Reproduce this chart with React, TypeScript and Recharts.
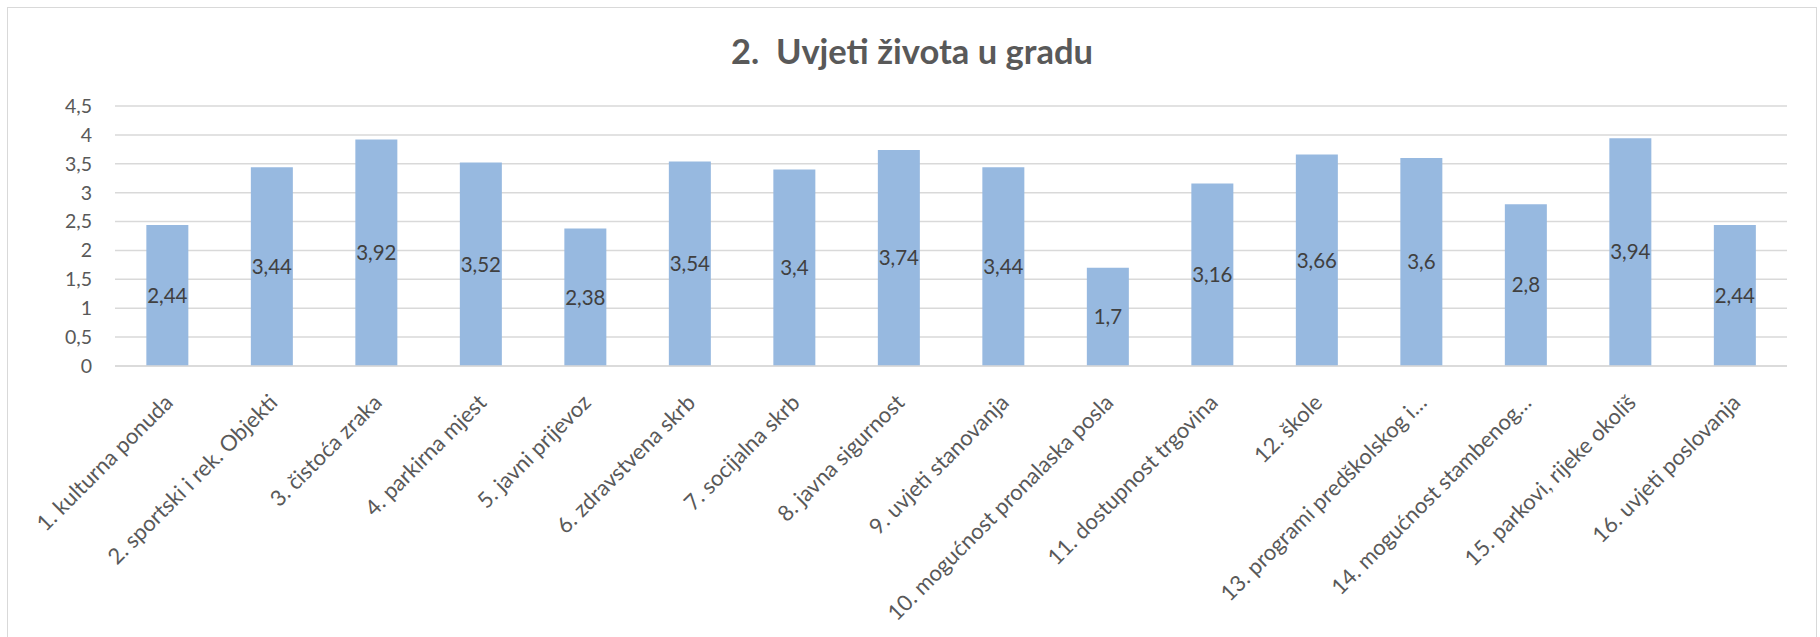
import { Bar, BarChart, CartesianGrid, LabelList, XAxis, YAxis } from "recharts";

const categories = [
  "1. kulturna ponuda",
  "2. sportski i rek. Objekti",
  "3. čistoća zraka",
  "4. parkirna mjest",
  "5. javni prijevoz",
  "6. zdravstvena skrb",
  "7. socijalna skrb",
  "8. javna sigurnost",
  "9. uvjeti stanovanja",
  "10. mogućnost pronalaska posla",
  "11. dostupnost trgovina",
  "12. škole",
  "13. programi predškolskog i…",
  "14. mogućnost stambenog…",
  "15. parkovi, rijeke okoliš",
  "16. uvjeti poslovanja",
];

const ratings = [2.44, 3.44, 3.92, 3.52, 2.38, 3.54, 3.4, 3.74, 3.44, 1.7, 3.16, 3.66, 3.6, 2.8, 3.94, 2.44];

const yTicks = [0, 0.5, 1, 1.5, 2, 2.5, 3, 3.5, 4, 4.5];

const data = categories.map((name, i) => ({ name, value: ratings[i] }));

const FONT = "Lato, 'Open Sans', sans-serif";
const comma = (v: number) => String(v).replace(".", ",");

function XTick(props: any) {
  const { x, y, payload } = props;
  const ax = x + 7;
  const ay = y + 30;
  return (
    <text
      x={ax}
      y={ay}
      transform={`rotate(-45, ${ax}, ${ay})`}
      textAnchor="end"
      fill="#595959"
      fontSize={22}
      fontFamily={FONT}
    >
      {payload.value}
    </text>
  );
}

export default function App() {
  return (
    <div
      style={{
        position: "absolute",
        left: 7,
        top: 7,
        width: 1810,
        height: 660,
        border: "1px solid #d9d9d9",
        boxSizing: "border-box",
        background: "#fff",
        fontFamily: FONT,
      }}
    >
      <div
        style={{
          position: "absolute",
          left: 0,
          right: 0,
          top: 26,
          textAlign: "center",
          fontSize: 34.5,
          lineHeight: "33px",
          fontWeight: 700,
          color: "#595959",
        }}
      >
        2.&nbsp; Uvjeti života u gradu
      </div>
      <BarChart
        width={1808}
        height={658}
        data={data}
        margin={{ top: 98, right: 29, left: 27, bottom: 10 }}
        barCategoryGap="30%"
      >
        <CartesianGrid vertical={false} stroke="#d9d9d9" strokeWidth={1.5} />
        <XAxis
          dataKey="name"
          interval={0}
          height={290}
          axisLine={{ stroke: "#d9d9d9", strokeWidth: 1.5 }}
          tickLine={false}
          tick={<XTick />}
        />
        <YAxis
          width={80}
          domain={[0, 4.5]}
          ticks={yTicks}
          axisLine={false}
          tickLine={false}
          tickMargin={17}
          tickFormatter={comma}
          tick={{ fill: "#595959", fontSize: 19.5, fontFamily: FONT }}
        />
        <Bar dataKey="value" fill="#97b9e0" isAnimationActive={false}>
          <LabelList
            dataKey="value"
            position="center"
            formatter={(v: any) => comma(v as number)}
            fill="#404040"
            fontSize={20.5}
            fontFamily={FONT}
          />
        </Bar>
      </BarChart>
    </div>
  );
}
